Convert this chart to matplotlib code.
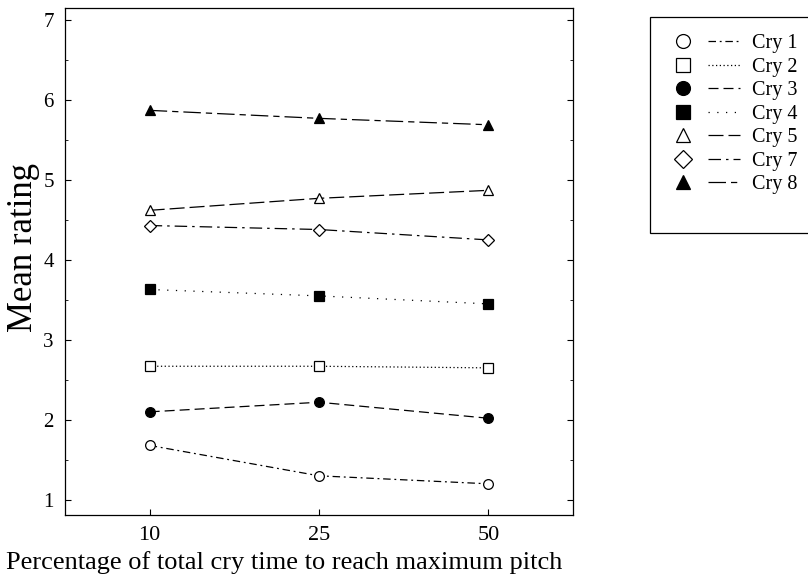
import matplotlib
matplotlib.use("Agg")
import matplotlib.pyplot as plt
from matplotlib.lines import Line2D
from matplotlib.legend_handler import HandlerTuple
from matplotlib.ticker import MultipleLocator

plt.rcParams['font.family'] = ['Liberation Serif', 'DejaVu Serif']

x_labels = ['10', '25', '50']
cry_names = ['Cry 1', 'Cry 2', 'Cry 3', 'Cry 4', 'Cry 5', 'Cry 7', 'Cry 8']
cry1 = [1.68, 1.30, 1.20]
cry2 = [2.67, 2.67, 2.65]
cry3 = [2.10, 2.22, 2.02]
cry4 = [3.63, 3.55, 3.45]
cry5 = [4.62, 4.77, 4.87]
cry7 = [4.43, 4.38, 4.25]
cry8 = [5.87, 5.77, 5.69]
series = [cry1, cry2, cry3, cry4, cry5, cry7, cry8]

markers = ['o', 's', 'o', 's', '^', 'D', '^']
fills = ['white', 'white', 'black', 'black', 'white', 'white', 'black']
styles = [(0, (6, 3, 1.5, 3)), (0, (1, 2)), (0, (8, 4)), (0, (1, 6)),
          (0, (12, 4)), (0, (10, 4, 2, 4)), (0, (14, 4, 5, 4))]

fig = plt.figure(figsize=(8.08, 5.8), dpi=100)
ax = fig.add_axes([65/808, 1-515/580, (573-65)/808, (515-8)/580])

xs = [1, 2, 3]
handles = []
for name, vals, m, fc, ls in zip(cry_names, series, markers, fills, styles):
    ax.plot(xs, vals, color='black', linestyle=ls, linewidth=0.9,
            marker=m, markersize=7 if m != 'D' else 6.5, markerfacecolor=fc,
            markeredgecolor='black', markeredgewidth=0.9)
    mk = Line2D([], [], linestyle='none', marker=m, markersize=10 if m != 'D' else 9,
                markerfacecolor=fc, markeredgecolor='black', markeredgewidth=0.9)
    ln = Line2D([], [], color='black', linestyle=ls, linewidth=0.9)
    handles.append((mk, ln))

# blank row to leave the extra space at the bottom of the box
blank = Line2D([], [], linestyle='none')
handles.append((blank, blank))
labels = cry_names + ['']

ax.set_xlim(0.5, 3.5)
ax.set_ylim(0.81, 7.15)
ax.set_xticks(xs)
ax.set_xticklabels(x_labels)
ax.set_yticks([1, 2, 3, 4, 5, 6, 7])
ax.yaxis.set_minor_locator(MultipleLocator(0.5))
ax.tick_params(which='major', direction='in', length=4, right=True, top=False)
ax.tick_params(which='minor', direction='in', length=2, right=True)
ax.tick_params(axis='x', pad=8, labelsize=16)
ax.tick_params(axis='y', pad=8, labelsize=15)
for sp in ax.spines.values():
    sp.set_linewidth(0.9)
ax.set_ylabel('Mean rating', fontsize=25)
ax.yaxis.set_label_coords(-(65-23)/508, (515-248)/507, transform=ax.transAxes)
ax.yaxis.label.set_horizontalalignment('center')
ax.yaxis.label.set_verticalalignment('center')
ax.set_xlabel('Percentage of total cry time to reach maximum pitch', fontsize=19)
ax.xaxis.set_label_coords((284-65)/508, -(563-515)/507, transform=ax.transAxes)
ax.xaxis.label.set_verticalalignment('center')

leg = fig.legend(handles, labels, loc='upper left',
                 bbox_to_anchor=(650/808, 1-17/580),
                 handler_map={tuple: HandlerTuple(ndivide=None, pad=0.5)},
                 handlelength=3.6, fontsize=14.5, fancybox=False, edgecolor='black',
                 framealpha=1, labelspacing=0.22, borderpad=0.85, handletextpad=0.6,
                 borderaxespad=0)
leg.get_frame().set_linewidth(0.9)
leg.get_texts()[-1].set_fontsize(9)

fig.savefig('out.png', dpi=100)
